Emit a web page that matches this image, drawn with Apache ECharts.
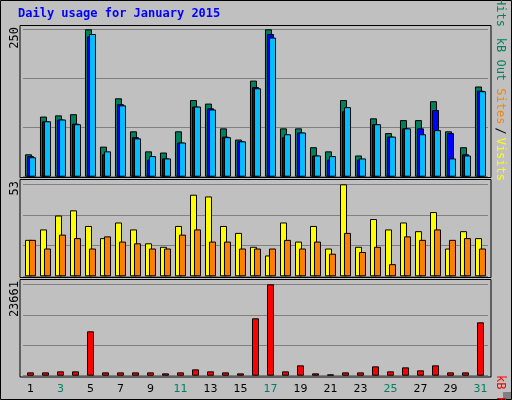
<!DOCTYPE html><html><head><meta charset="utf-8">
<script src="https://cdn.jsdelivr.net/npm/echarts@6/dist/echarts.min.js"></script>
<style>html,body{margin:0;padding:0;background:#C0C0C0}#c{width:512px;height:400px}</style></head><body><div id="c"></div>
<script>
const days=['1','2','3','4','5','6','7','8','9','10','11','12','13','14','15','16','17','18','19','20','21','22','23','24','25','26','27','28','29','30','31'];
const weekend=['3','4','10','11','17','18','24','25','31'];
const hits=[38,102,104,106,250,51,133,77,43,41,77,130,124,82,63,163,250,82,82,50,43,130,36,99,74,96,96,128,77,50,153];
const files=[35,94,97,90,238,38,123,67,29,31,58,119,116,68,60,152,242,67,75,36,29,111,29,89,68,82,82,113,74,38,146];
const pages=[33,94,97,89,242,43,121,65,35,31,58,119,114,67,60,150,236,72,75,36,35,118,31,89,68,82,72,79,31,36,145];
const visits=[21,27,35,38,29,22,31,27,19,17,29,47,46,29,25,17,12,31,20,29,16,53,17,33,27,31,26,37,16,26,22];
const sites=[21,16,24,22,16,23,20,19,16,16,24,27,20,20,16,16,16,21,16,20,13,25,14,17,7,23,21,27,21,22,16];
const kbF=[864,864,1123,1123,11490,864,864,864,864,605,864,1640,1123,864,605,14860,23661,1123,2680,605,350,864,864,2420,1123,2160,1380,2680,864,864,13820];
const maxTop=250,maxMid=53,maxBot=23661;

const L=23,W=465;
const grids=[{left:L,width:W,top:29.3,height:147.4},{left:L,width:W,top:184.3,height:92},{left:L,width:W,top:284.3,height:91.4}];
const xAxes=grids.map((g,i)=>({type:'category',gridIndex:i,data:days,boundaryGap:true,axisLine:{show:false},axisTick:{show:false},
 axisLabel:{show:i===2,margin:8,fontFamily:'DejaVu Sans',fontSize:11,color:(v)=>weekend.includes(v)?'#008060':'#000'}}));
const mk=(i,max)=>({type:'value',gridIndex:i,min:0,max:max,interval:max/3,axisLabel:{show:false},axisLine:{show:false},axisTick:{show:false},
 splitLine:{show:true,lineStyle:{color:'#808080',width:1}}});
const yAxes=[mk(0,maxTop),mk(1,maxMid),mk(2,maxBot)];
const bs=(c)=>({color:c,borderColor:'#000',borderWidth:1});
const series=[
 {type:'bar',xAxisIndex:0,yAxisIndex:0,data:hits,barWidth:7,barGap:'-71%',itemStyle:bs('#00805C'),z:1},
 {type:'bar',xAxisIndex:0,yAxisIndex:0,data:files,barWidth:7,barGap:'-71%',itemStyle:bs('#0000FF'),z:2},
 {type:'bar',xAxisIndex:0,yAxisIndex:0,data:pages,barWidth:7,barGap:'-71%',itemStyle:bs('#00C0FF'),z:3},
 {type:'bar',xAxisIndex:1,yAxisIndex:1,data:visits,barWidth:7,barGap:'-43%',itemStyle:bs('#FFFF00'),z:1},
 {type:'bar',xAxisIndex:1,yAxisIndex:1,data:sites,barWidth:7,barGap:'-43%',itemStyle:bs('#FF8000'),z:2},
 {type:'bar',xAxisIndex:2,yAxisIndex:2,data:kbF,barWidth:7,itemStyle:bs('#FF0000'),z:1}
];
const frame=(y,h)=>({type:'rect',shape:{x:20,y:y,width:471,height:h},style:{fill:'none',stroke:'#000',lineWidth:1},z:10,silent:true});
const vtxt=(x,y,rich,text)=>({type:'text',x:x,y:y,rotation:Math.PI/2,style:{text:text,rich:rich,font:'12px "DejaVu Sans Mono"',align:'right',verticalAlign:'middle'},z:11});
const graphic=[
 {type:'rect',shape:{x:0.5,y:0.5,width:511,height:399},style:{fill:'none',stroke:'#000',lineWidth:1},z:10},
 {type:'rect',shape:{x:503,y:392,width:8,height:7},style:{fill:'#808080'},z:9},
 {type:'text',x:18,y:14,style:{text:'Daily usage for January 2015',font:'bold 12px "DejaVu Sans Mono"',fill:'#0000FF',verticalAlign:'middle'},z:11},
 frame(25.5,152),frame(179.5,98),frame(279.5,97.5),
 vtxt(15,27,{},'250'),vtxt(15,181,{},'53'),vtxt(15,281,{},'23661'),
 {type:'text',x:500,y:27,rotation:-Math.PI/2,style:{text:'{a|Pages}{s|/}{b|Files}{s|/}{c|Hits}',rich:{a:{fill:'#00C0FF',font:'12px "DejaVu Sans Mono"'},b:{fill:'#0000FF',font:'12px "DejaVu Sans Mono"'},c:{fill:'#00805C',font:'12px "DejaVu Sans Mono"'},s:{fill:'#000',font:'12px "DejaVu Sans Mono"',padding:[0,3]}},align:'right',verticalAlign:'middle'},z:11},
 {type:'text',x:500,y:181,rotation:-Math.PI/2,style:{text:'{c|kB Out }{b|Sites}{s|/}{a|Visits}',rich:{a:{fill:'#FFFF00',font:'12px "DejaVu Sans Mono"'},b:{fill:'#FF8000',font:'12px "DejaVu Sans Mono"'},c:{fill:'#00805C',font:'12px "DejaVu Sans Mono"'},s:{fill:'#000',font:'12px "DejaVu Sans Mono"',padding:[0,3]}},align:'right',verticalAlign:'middle'},z:11},
 {type:'text',x:500,y:375,rotation:-Math.PI/2,style:{text:'{a|kB F}{s|/}{b|kB In}{s|/}',rich:{a:{fill:'#FF0000',font:'12px "DejaVu Sans Mono"'},b:{fill:'#0000FF',font:'12px "DejaVu Sans Mono"'},s:{fill:'#000',font:'12px "DejaVu Sans Mono"',padding:[0,3]}},align:'left',verticalAlign:'middle'},z:11}
];
const ch=echarts.init(document.getElementById('c'),null,{renderer:'canvas'});
ch.setOption({animation:false,backgroundColor:'#C0C0C0',grid:grids,xAxis:xAxes,yAxis:yAxes,series:series,graphic:graphic});
</script></body></html>
